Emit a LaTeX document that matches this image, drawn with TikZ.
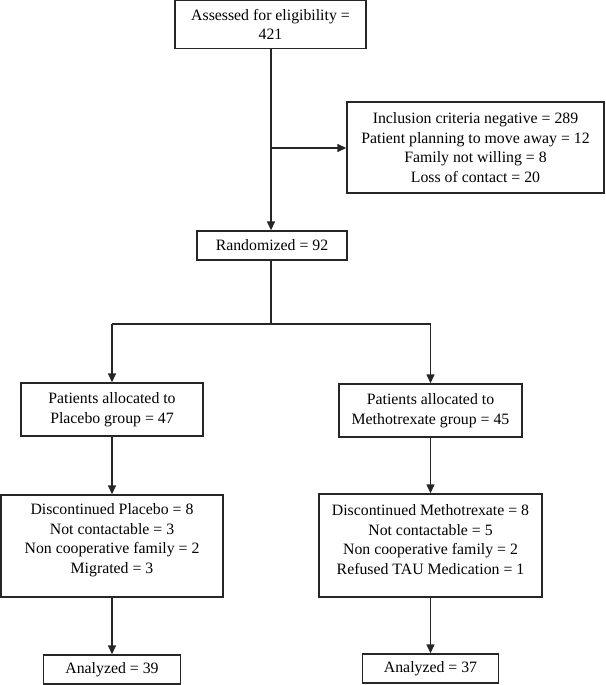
\documentclass[tikz,border=0pt]{standalone}
\usepackage{fontspec}
\setmainfont{Liberation Serif}
\usetikzlibrary{arrows.meta,calc}
\begin{document}
\begin{tikzpicture}[x=1pt,y=-1pt,
  every node/.style={font=\fontsize{15.8}{19.5}\selectfont, align=center, inner sep=0pt},
  box/.style={draw=black!85, line width=1.4pt},
  conn/.style={draw=black!85, line width=1.4pt},
  arr/.style={conn, -{Triangle[length=9pt,width=8pt]}},
  lbl/.style={}
]
\useasboundingbox (0,0) rectangle (605,685);
\node[box, minimum width=191, minimum height=48] (top) at (270.5,24.5) {Assessed for eligibility =\\421};
\node[box, minimum width=257, minimum height=91] (excl) at (475.5,147.5) {Inclusion criteria negative = 289\\Patient planning to move away = 12\\Family not willing = 8\\Loss of contact = 20};
\node[box, minimum width=150, minimum height=29] (rand) at (272,245.5) {Randomized = 92};
\node[box, minimum width=182, minimum height=53] (plac) at (112,409.5) {Patients allocated to\\Placebo group = 47};
\node[box, minimum width=183, minimum height=53] (meth) at (430.5,410.5) {Patients allocated to\\Methotrexate group = 45};
\node[box, minimum width=222, minimum height=102] (discP) at (112,546) {};
\node[lbl] (discPtxt) at (112,540) {Discontinued Placebo = 8\\Not contactable = 3\\Non cooperative family = 2\\Migrated = 3};
\node[box, minimum width=223, minimum height=103] (discM) at (430.5,545.5) {};
\node[lbl] (discMtxt) at (430.5,539.5) {Discontinued Methotrexate = 8\\Not contactable = 5\\Non cooperative family = 2\\Refused TAU Medication = 1};
\node[box, minimum width=137, minimum height=29] (anP) at (112,669.5) {Analyzed = 39};
\node[box, minimum width=136, minimum height=29] (anM) at (430.5,668.5) {Analyzed = 37};

\coordinate (split) at (271,148);
\coordinate (bmid) at (271,324);
\coordinate (bl) at (112,324);
\coordinate (br) at (430.5,324);

\draw[arr] (top.south -| split) -- (rand.north -| split);
\draw[arr] (split) -- (excl.west |- split);
\draw[conn] (rand.south -| bmid) -- (bmid);
\draw[conn] (bl) -- (br);
\draw[arr] (bl) -- (plac.north);
\draw[arr] (br) -- (meth.north);
\draw[arr] (plac.south) -- (discP.north);
\draw[arr] (meth.south) -- (discM.north);
\draw[arr] (discP.south) -- (anP.north);
\draw[arr] (discM.south) -- (anM.north);
\end{tikzpicture}
\end{document}
